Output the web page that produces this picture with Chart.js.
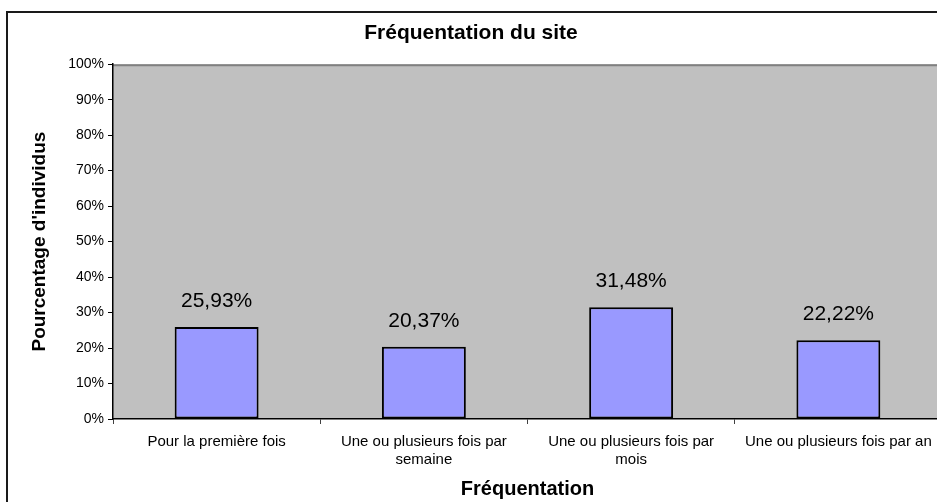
<!DOCTYPE html>
<html>
<head>
<meta charset="utf-8">
<script src="https://cdn.jsdelivr.net/npm/chart.js@4.4.1/dist/chart.umd.min.js"></script>
<style>
  html, body { margin: 0; padding: 0; background: #fff; overflow: hidden; }
  canvas { display: block; }
</style>
</head>
<body>
<canvas id="freqChart" width="960" height="512"></canvas>
<script>
// data
var categories = [
    "Pour la première fois",
    ["Une ou plusieurs fois par", "semaine"],
    ["Une ou plusieurs fois par", "mois"],
    "Une ou plusieurs fois par an"
];
var percentValues = [25.93, 20.37, 31.48, 22.22];
var yTicks = [0, 10, 20, 30, 40, 50, 60, 70, 80, 90, 100];

var FONT = "'Liberation Sans', Arial, sans-serif";

// grey plot area + outer frame
var plotBackground = {
    id: 'plotBackground',
    beforeDraw: function (chart) {
        var ctx = chart.ctx, a = chart.chartArea;
        ctx.save();
        ctx.strokeStyle = '#1a1a1a';
        ctx.lineWidth = 2;
        ctx.strokeRect(7, 12, chart.width, chart.height);
        ctx.fillStyle = '#C0C0C0';
        ctx.fillRect(a.left, a.top, a.right - a.left, a.bottom - a.top);
        ctx.strokeStyle = '#808080';
        ctx.lineWidth = 2;
        ctx.beginPath();
        ctx.moveTo(a.left, a.top + 1);
        ctx.lineTo(a.right, a.top + 1);
        ctx.stroke();
        ctx.restore();
    }
};

// value labels above the bars
var barLabels = {
    id: 'barLabels',
    afterDatasetsDraw: function (chart) {
        var ctx = chart.ctx;
        var meta = chart.getDatasetMeta(0);
        ctx.save();
        ctx.font = '21px ' + FONT;
        ctx.fillStyle = '#000';
        ctx.textAlign = 'center';
        ctx.textBaseline = 'middle';
        meta.data.forEach(function (bar, i) {
            var txt = percentValues[i].toFixed(2).replace('.', ',') + '%';
            ctx.fillText(txt, bar.x, bar.y - 26);
        });
        ctx.restore();
    }
};

var freqChart = new Chart(document.getElementById('freqChart'), {
    type: 'bar',
    data: {
        labels: categories,
        datasets: [{
            label: 'Fréquentation',
            data: percentValues,
            backgroundColor: '#9999FF',
            borderColor: '#000000',
            borderWidth: 2,
            borderSkipped: false,
            barPercentage: 0.405,
            categoryPercentage: 1.0
        }]
    },
    options: {
        responsive: false,
        animation: false,
        devicePixelRatio: 1,
        layout: { padding: { left: 0, right: 18, top: 0, bottom: 0 } },
        plugins: {
            legend: { display: false },
            tooltip: { enabled: false },
            title: {
                display: true,
                text: 'Fréquentation du site',
                color: '#000',
                font: { family: FONT, size: 21, weight: 'bold' },
                padding: { top: 21, bottom: 18 }
            }
        },
        scales: {
            x: {
                afterFit: function (scale) { scale.height = 93; },
                grid: {
                    drawOnChartArea: false,
                    drawTicks: true,
                    tickLength: 5,
                    tickColor: '#404040',
                    offset: true
                },
                border: { color: '#000', width: 1.5 },
                ticks: {
                    color: '#000',
                    font: { family: FONT, size: 15 },
                    padding: 9,
                    maxRotation: 0,
                    autoSkip: false
                },
                title: {
                    display: true,
                    text: 'Fréquentation',
                    color: '#000',
                    font: { family: FONT, size: 20, weight: 'bold' },
                    padding: { top: 0, bottom: 11 }
                }
            },
            y: {
                min: 0,
                max: 100,
                afterFit: function (scale) { scale.width = 113; },
                afterBuildTicks: function (scale) {
                    scale.ticks = yTicks.map(function (v) { return { value: v }; });
                },
                grid: {
                    drawOnChartArea: false,
                    drawTicks: true,
                    tickLength: 5,
                    tickColor: '#000'
                },
                border: { color: '#000', width: 1.5 },
                ticks: {
                    color: '#000',
                    font: { family: FONT, size: 14 },
                    padding: 4,
                    callback: function (v) { return v + '%'; }
                },
                title: {
                    display: true,
                    text: "Pourcentage d'individus",
                    color: '#000',
                    font: { family: FONT, size: 19, weight: 'bold' },
                    padding: { top: 28, bottom: 0 }
                }
            }
        }
    },
    plugins: [plotBackground, barLabels]
});
</script>
</body>
</html>
